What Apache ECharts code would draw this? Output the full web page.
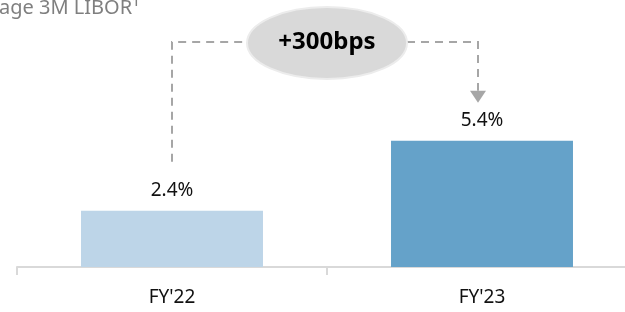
<!DOCTYPE html>
<html>
<head>
<meta charset="utf-8">
<script src="https://cdn.jsdelivr.net/npm/echarts@6/dist/echarts.min.js"></script>
<style>
  html, body { margin: 0; padding: 0; background: #fff; }
  #chart { width: 625px; height: 312px; }
</style>
</head>
<body>
<div id="chart"></div>
<script>
var fontFamily = '"Noto Sans", "Open Sans", sans-serif'
var categories = ["FY'22", "FY'23"]
var rates = [2.4, 5.4]
var barColors = ['#bdd5e8', '#65a2c9']
var deltaText = '+300bps'
var titleText = 'Average 3M LIBOR\u00b9'

var chart = echarts.init(document.getElementById('chart'))

var option = {
  animation: false,
  grid: {
    left: 17,
    width: 620,
    top: 33,
    bottom: 45,
    outerBoundsMode: 'none',
    containLabel: false
  },
  xAxis: {
    type: 'category',
    data: categories,
    axisLine: {
      lineStyle: { color: '#d9d9d9', width: 2 }
    },
    axisTick: {
      show: true,
      length: 8,
      lineStyle: { color: '#d9d9d9', width: 2 }
    },
    axisLabel: {
      color: '#111',
      fontSize: 19,
      fontFamily: fontFamily,
      margin: 21
    }
  },
  yAxis: {
    type: 'value',
    min: 0,
    max: 10,
    show: false
  },
  series: [
    {
      type: 'bar',
      barWidth: '58.7%',
      data: rates.map(function (v, i) {
        return { value: v, itemStyle: { color: barColors[i] } }
      }),
      label: {
        show: true,
        position: 'top',
        distance: 11,
        color: '#111',
        fontSize: 19,
        fontFamily: fontFamily,
        formatter: function (p) { return p.value.toFixed(1) + '%' }
      }
    }
  ]
}
chart.setOption(option)

// annotation: dashed bracket from FY'22 to FY'23 with the delta bubble
function drawAnnotation () {
  var p1 = chart.convertToPixel({ seriesIndex: 0 }, [0, rates[0]])
  var p2 = chart.convertToPixel({ seriesIndex: 0 }, [1, rates[1]])
  var lineY = 42
  var x1 = p1[0]
  var x2 = p2[0] - 4
  var cx = (p1[0] + p2[0]) / 2
  var rx = 80
  var ry = 36
  var dash = { stroke: '#a6a6a6', lineWidth: 2, lineDash: [8, 6] }
  var arrowTip = p2[1] - 38

  chart.setOption({
    graphic: [
      {
        type: 'text',
        left: -43,
        top: -2,
        style: {
          text: titleText,
          fill: '#7f7f7f',
          font: '20px ' + fontFamily
        }
      },
      {
        type: 'polyline',
        shape: { points: [[x1, p1[1] - 49], [x1, lineY], [cx - rx, lineY]] },
        style: dash
      },
      {
        type: 'polyline',
        shape: { points: [[cx + rx, lineY], [x2, lineY], [x2, arrowTip - 12]] },
        style: dash
      },
      {
        type: 'polygon',
        shape: { points: [[x2 - 8, arrowTip - 12], [x2 + 8, arrowTip - 12], [x2, arrowTip]] },
        style: { fill: '#a6a6a6' }
      },
      {
        type: 'ellipse',
        shape: { cx: cx, cy: lineY + 1, rx: rx, ry: ry },
        style: { fill: '#d9d9d9', stroke: '#ececec', lineWidth: 2 }
      },
      {
        type: 'text',
        x: cx,
        y: lineY,
        style: {
          text: deltaText,
          fill: '#000',
          font: 'bold 24px ' + fontFamily,
          align: 'center',
          verticalAlign: 'middle'
        }
      }
    ]
  })
}
drawAnnotation()
</script>
</body>
</html>
